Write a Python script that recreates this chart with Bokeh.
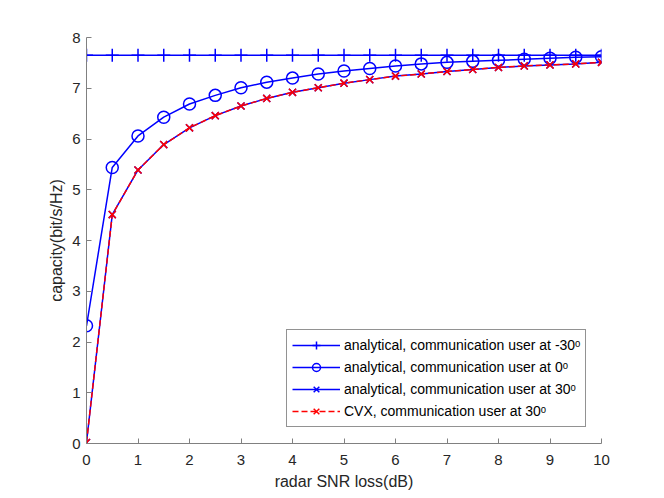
from bokeh.plotting import figure
from bokeh.models import Range1d, Legend, LegendItem, FixedTicker
from bokeh.embed import file_html
from bokeh.resources import INLINE

snr_loss = [0, 0.5, 1, 1.5, 2, 2.5, 3, 3.5, 4, 4.5, 5, 5.5, 6, 6.5, 7, 7.5, 8, 8.5, 9, 9.5, 10]
cap_m30 = [7.65] * 21
cap_0 = [2.32, 5.44, 6.06, 6.43, 6.69, 6.86, 7.01, 7.12, 7.20, 7.28, 7.34, 7.39, 7.44, 7.48, 7.51,
         7.53, 7.55, 7.57, 7.59, 7.61, 7.62]
cap_30 = [0.02, 4.51, 5.39, 5.89, 6.22, 6.46, 6.65, 6.80, 6.92, 7.01, 7.10, 7.17, 7.24, 7.28, 7.33,
          7.37, 7.41, 7.44, 7.46, 7.48, 7.51]
cap_cvx = list(cap_30)
x_ticks = [0, 1, 2, 3, 4, 5, 6, 7, 8, 9, 10]
y_ticks = [0, 1, 2, 3, 4, 5, 6, 7, 8]
labels = [
    "analytical, communication user at -30ᵒ",
    "analytical, communication user at 0ᵒ",
    "analytical, communication user at 30ᵒ",
    "CVX, communication user at 30ᵒ",
]

FONT = "Liberation Sans"
BLUE = "#0000ff"
RED = "#ff0000"

p = figure(width=656, height=495, output_backend="svg", toolbar_location=None,
           x_range=Range1d(0, 10), y_range=Range1d(0, 8),
           min_border_left=86, min_border_right=55, min_border_top=37, min_border_bottom=52)
p.outline_line_color = None
p.grid.grid_line_color = None
p.background_fill_color = "white"
p.border_fill_color = "white"

p.xaxis.ticker = FixedTicker(ticks=x_ticks)
p.yaxis.ticker = FixedTicker(ticks=y_ticks)
for ax in (p.xaxis[0], p.yaxis[0]):
    ax.axis_line_color = "#808080"
    ax.axis_line_width = 1
    ax.major_tick_line_color = "#808080"
    ax.major_tick_in = 5
    ax.major_tick_out = 0
    ax.minor_tick_line_color = None
    ax.major_label_text_font = FONT
    ax.major_label_text_font_size = "15px"
    ax.major_label_text_color = "#262626"
    ax.axis_label_text_font = FONT
    ax.axis_label_text_font_size = "16px"
    ax.axis_label_text_font_style = "normal"
    ax.axis_label_text_color = "#262626"
p.xaxis.axis_label = "radar SNR loss(dB)"
p.yaxis.axis_label = "capacity(bit/s/Hz)"
p.xaxis.major_label_standoff = 11
p.xaxis.axis_label_standoff = 5
p.yaxis.major_label_standoff = 6
p.yaxis.axis_label_standoff = 4

lw = 1.5
l1 = p.line(snr_loss, cap_m30, line_color=BLUE, line_width=lw)
s1 = p.scatter(snr_loss, cap_m30, marker="cross", size=13, line_color=BLUE, line_width=lw)
l2 = p.line(snr_loss, cap_0, line_color=BLUE, line_width=lw)
s2 = p.scatter(snr_loss, cap_0, marker="circle", size=12, line_color=BLUE, fill_color=None, line_width=lw)
l3 = p.line(snr_loss, cap_30, line_color=BLUE, line_width=lw)
s3 = p.scatter(snr_loss, cap_30, marker="x", size=10, line_color=BLUE, line_width=lw)
l4 = p.line(snr_loss, cap_cvx, line_color=RED, line_width=lw, line_dash="6 3")
s4 = p.scatter(snr_loss, cap_cvx, marker="x", size=10, line_color=RED, line_width=lw)

legend = Legend(items=[
    LegendItem(label=labels[0], renderers=[l1, s1]),
    LegendItem(label=labels[1], renderers=[l2, s2]),
    LegendItem(label=labels[2], renderers=[l3, s3]),
    LegendItem(label=labels[3], renderers=[l4, s4]),
])
legend.location = (200, 16)
legend.label_text_font = FONT
legend.label_text_font_size = "14px"
legend.label_text_color = "#000000"
legend.glyph_width = 48
legend.glyph_height = 20
legend.label_height = 20
legend.label_standoff = 4
legend.padding = 5
legend.spacing = 2
legend.margin = 0
legend.border_line_color = "#262626"
legend.border_line_width = 1
legend.background_fill_color = "white"
legend.background_fill_alpha = 1
p.add_layout(legend)

open("out.html", "w").write(file_html(p, INLINE))
